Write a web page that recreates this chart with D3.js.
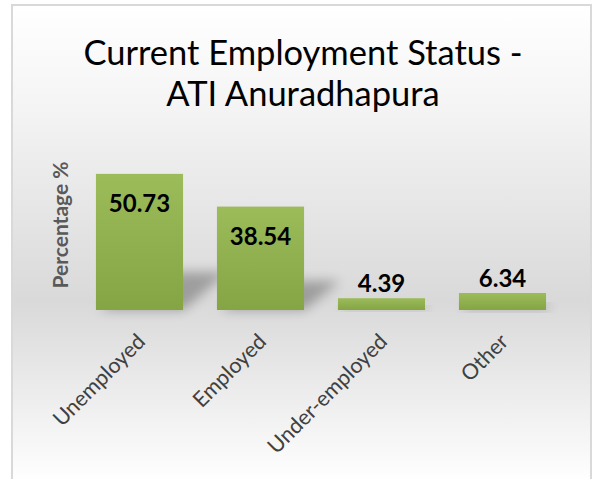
<!DOCTYPE html>
<html>
<head>
<meta charset="utf-8">
<script src="https://cdn.jsdelivr.net/npm/d3@7"></script>
<style>
  body { margin: 0; background: #fff; }
  svg { display: block; }
</style>
</head>
<body>
<div class="chart"></div>
<script>
// chart values
var categories = ["Unemployed", "Employed", "Under-employed", "Other"];
var values = [50.73, 38.54, 4.39, 6.34];
var titleLines = ["Current Employment Status -", "ATI Anuradhapura"];
var yLabel = "Percentage %";

var width = 596, height = 479;
var plot = {left: 79, right: 563, top: 149, bottom: 310};
var font = "Lato, 'Open Sans', sans-serif";

var svg = d3.select("div.chart").append("svg")
    .attr("width", width)
    .attr("height", height);

var defs = svg.append("defs");

// background gradient white -> grey -> white
var bg = defs.append("linearGradient")
    .attr("id", "bg").attr("x1", 0).attr("y1", 0).attr("x2", 0).attr("y2", 1);
bg.append("stop").attr("offset", "0%").attr("stop-color", "#ffffff");
bg.append("stop").attr("offset", "20%").attr("stop-color", "#f5f5f5");
bg.append("stop").attr("offset", "62%").attr("stop-color", "#d9d9d9");
bg.append("stop").attr("offset", "100%").attr("stop-color", "#ffffff");

// bar gradient
var barGrad = defs.append("linearGradient")
    .attr("id", "bar").attr("x1", 0).attr("y1", 0).attr("x2", 0).attr("y2", 1);
barGrad.append("stop").attr("offset", "0%").attr("stop-color", "#9cbb59");
barGrad.append("stop").attr("offset", "100%").attr("stop-color", "#85a444");

var blur = defs.append("filter").attr("id", "blur")
    .attr("x", "-50%").attr("y", "-50%").attr("width", "200%").attr("height", "200%");
blur.append("feGaussianBlur").attr("stdDeviation", 6);

// chart frame
svg.append("rect")
    .attr("x", 12).attr("y", 5)
    .attr("width", 579).attr("height", 478)
    .attr("fill", "url(#bg)")
    .attr("stroke", "#d9d9d9")
    .attr("stroke-width", 2);

// title
svg.append("text")
    .attr("x", 303).attr("y", 65)
    .attr("text-anchor", "middle")
    .style("font-family", font)
    .style("font-size", "34.5px")
    .attr("fill", "#000")
  .selectAll("tspan")
    .data(titleLines)
  .enter().append("tspan")
    .attr("x", 303)
    .attr("dy", function(d, i) { return i === 0 ? 0 : 41; })
    .text(function(d) { return d; });

// scales
var x = d3.scaleBand()
    .domain(categories)
    .range([plot.left, plot.right])
    .paddingInner(0.28)
    .paddingOuter(0.14);

var y = d3.scaleLinear()
    .domain([0, 60])
    .range([plot.bottom, plot.top]);

var g = svg.append("g");

// perspective shadows behind bars
g.selectAll("path.shadow")
    .data(values)
  .enter().append("path")
    .attr("class", "shadow")
    .attr("d", function(d, i) {
      var x0 = x(categories[i]), x1 = x0 + x.bandwidth();
      var y0 = y(0), h = y(0) - y(d);
      var dx = Math.min(45, h * 0.35), dy = h * 0.28;
      return "M" + (x0 + 4) + "," + y0 + "L" + x1 + "," + y0 +
             "L" + (x1 + dx) + "," + (y0 - dy) + "L" + (x0 + dx) + "," + (y0 - dy) + "Z";
    })
    .attr("fill", "#000")
    .attr("opacity", 0.28)
    .attr("filter", "url(#blur)");

// bars
g.selectAll("rect.bar")
    .data(values)
  .enter().append("rect")
    .attr("class", "bar")
    .attr("x", function(d, i) { return x(categories[i]); })
    .attr("y", function(d) { return y(d); })
    .attr("width", x.bandwidth())
    .attr("height", function(d) { return y(0) - y(d); })
    .attr("fill", "url(#bar)");

// value labels: inside the top of tall bars, above short ones
g.selectAll("text.value")
    .data(values)
  .enter().append("text")
    .attr("class", "value")
    .attr("x", function(d, i) { return x(categories[i]) + x.bandwidth() / 2; })
    .attr("y", function(d) { return d > 20 ? y(d) + 38 : y(d) - 6; })
    .attr("text-anchor", "middle")
    .style("font-family", font)
    .style("font-size", "24px")
    .style("font-weight", "bold")
    .attr("fill", "#000")
    .text(function(d) { return d.toFixed(2); });

// category labels
g.selectAll("text.cat")
    .data(categories)
  .enter().append("text")
    .attr("class", "cat")
    .attr("transform", function(d) {
      return "translate(" + (x(d) + x.bandwidth() / 2 + 7) + "," + 343 + ") rotate(-45)";
    })
    .attr("text-anchor", "end")
    .style("font-family", font)
    .style("font-size", "21.5px")
    .attr("fill", "#404040")
    .text(function(d) { return d; });

// y axis title
svg.append("text")
    .attr("transform", "translate(68,225) rotate(-90)")
    .attr("text-anchor", "middle")
    .style("font-family", font)
    .style("font-size", "21px")
    .style("font-weight", "bold")
    .attr("fill", "#595959")
    .text(yLabel);
</script>
</body>
</html>
